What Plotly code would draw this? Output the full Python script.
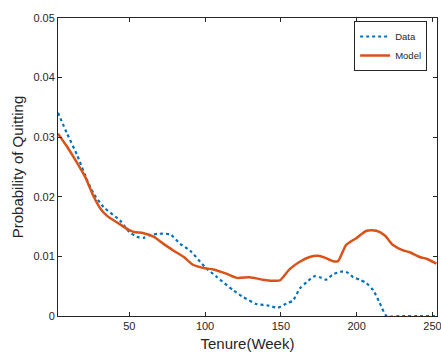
import plotly.graph_objects as go

data_x = [3, 9, 15.6, 22.2, 26.6, 33, 44, 50, 55, 59.5, 64, 70, 77, 83.6, 90, 100, 108, 118.7, 125,
          134, 140.7, 148, 153.8, 158, 162.5, 167, 172.5, 176.9, 180, 184.5, 191, 194.5, 197.8, 202,
          206.5, 211, 215, 219.8, 230, 240, 253]
data_y = [0.0341, 0.0306, 0.0270, 0.0228, 0.0205, 0.0183, 0.0160, 0.0141, 0.0133, 0.0131, 0.0136,
          0.0138, 0.0137, 0.0121, 0.0110, 0.0082, 0.0065, 0.0043, 0.0032, 0.0020, 0.0018, 0.0014,
          0.0021, 0.0026, 0.0046, 0.0057, 0.0067, 0.0064, 0.0061, 0.0070, 0.0075, 0.0072, 0.0065,
          0.0061, 0.0055, 0.0043, 0.0023, 0.0, 0.0, 0.0, 0.0]

model_x = [3, 9, 15.6, 21, 26.6, 31, 35.4, 42, 50, 53, 59.5, 66, 72.6, 79, 86, 92, 100, 105.5, 114,
           121, 129.5, 138, 147, 149.5, 156, 162.5, 169, 174.5, 179, 184.5, 187.7, 193, 200, 206.5,
           213, 218.6, 224, 230.6, 235, 241.6, 246, 252.6]
model_y = [0.0306, 0.0284, 0.0257, 0.0233, 0.0200, 0.0180, 0.0168, 0.0157, 0.0144, 0.0141, 0.0139,
           0.0133, 0.0121, 0.0110, 0.0099, 0.0086, 0.0080, 0.0078, 0.0071, 0.0064, 0.0065, 0.0061,
           0.0059, 0.0060, 0.0079, 0.0091, 0.0099, 0.0101, 0.0098, 0.0092, 0.0092, 0.0119, 0.0131,
           0.0143, 0.0143, 0.0135, 0.0119, 0.0110, 0.0107, 0.0099, 0.0096, 0.0088]

x_ticks = [50, 100, 150, 200, 250]
y_ticks = [0, 0.01, 0.02, 0.03, 0.04, 0.05]
y_tick_labels = ["0", "0.01", "0.02", "0.03", "0.04", "0.05"]

fig = go.Figure()
fig.add_trace(go.Scatter(x=data_x, y=data_y, name="Data", mode="lines",
                         line=dict(color="#0072BD", width=2.2, dash="dot", shape="spline", smoothing=0.6)))
fig.add_trace(go.Scatter(x=model_x, y=model_y, name="Model", mode="lines",
                         line=dict(color="#D95319", width=2.5, shape="spline", smoothing=0.6)))

axis_common = dict(showline=True, linecolor="#262626", linewidth=1, mirror="ticks",
                   ticks="inside", ticklen=4, tickcolor="#262626", showgrid=False, zeroline=False,
                   tickfont=dict(size=11, color="#262626"), automargin=False,
                   ticklabeloverflow="allow")

fig.update_layout(
    width=441, height=354,
    margin=dict(l=58, r=4, t=18, b=38),
    paper_bgcolor="white", plot_bgcolor="white",
    font=dict(family="Liberation Sans, Arial, sans-serif", color="#262626"),
    xaxis=dict(range=[3, 253], tickvals=x_ticks,
               title=dict(text="Tenure(Week)", font=dict(size=15, color="#262626"), standoff=7),
               **axis_common),
    yaxis=dict(range=[0, 0.05], tickvals=y_ticks, ticktext=y_tick_labels,
               title=dict(text="Probability of Quitting", font=dict(size=15, color="#262626"), standoff=6),
               **axis_common),
    legend=dict(x=0.974, y=0.99, xanchor="right", yanchor="top",
                bgcolor="white", bordercolor="#262626", borderwidth=1,
                font=dict(size=9.5, color="#262626"), tracegroupgap=0, itemwidth=30),
    showlegend=True,
)

fig.write_html("out.html", config={"displayModeBar": False},
               post_script="document.body.style.margin='0';")
